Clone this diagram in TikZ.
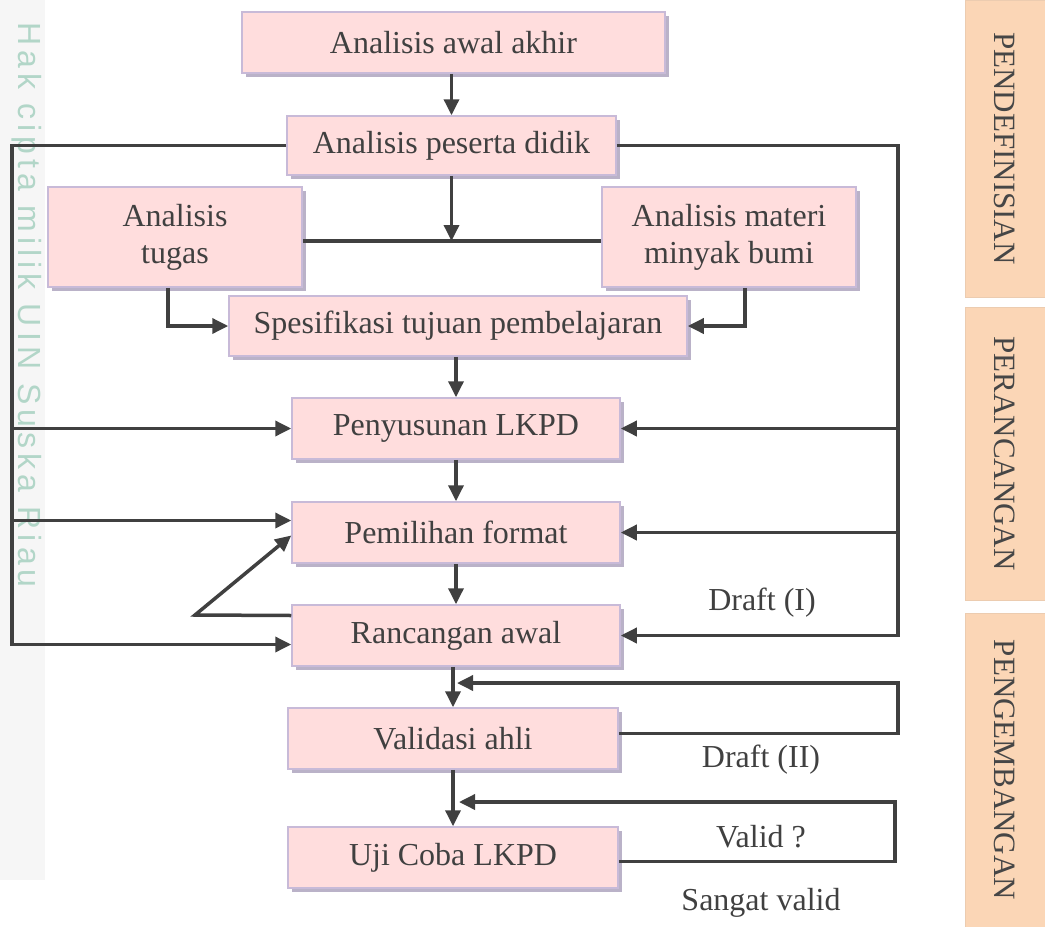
\documentclass[tikz,border=0pt]{standalone}
\usepackage{fontspec}
\setmainfont{Liberation Serif}
\newfontfamily\markfont[LetterSpace=16]{Liberation Sans}
\usetikzlibrary{arrows.meta,shadows}

\definecolor{boxfill}{RGB}{255,221,221}
\definecolor{boxline}{RGB}{200,186,216}
\definecolor{boxshade}{RGB}{186,178,200}
\definecolor{linegray}{RGB}{64,64,64}
\definecolor{bandfill}{RGB}{251,214,182}
\definecolor{bandline}{RGB}{236,204,176}
\definecolor{bandtext}{RGB}{70,70,70}
\definecolor{markgreen}{RGB}{178,214,200}
\definecolor{markstrip}{RGB}{246,246,246}

\tikzset{
  box/.style={draw=boxline, line width=1.5pt, fill=boxfill, align=center, inner sep=0pt,
    text=linegray, font=\fontsize{32}{37}\selectfont,
    drop shadow={shadow xshift=4pt, shadow yshift=-4pt, fill=boxshade, opacity=1}},
  band/.style={draw=bandline, line width=1pt, fill=bandfill, rotate=-90, inner sep=0pt,
    minimum height=80pt, text=bandtext, font=\fontsize{31}{36}\selectfont},
  lbl/.style={text=linegray, font=\fontsize{32}{37}\selectfont},
  line/.style={draw=linegray, line width=3.5pt},
  arrow/.style={line, -{Triangle[length=16pt,width=15pt]}}
}

\begin{document}
\begin{tikzpicture}[x=1pt,y=-1pt]
  \useasboundingbox (0,0) rectangle (1045,927);
  % watermark along the left edge
  \fill[markstrip] (0,0) rectangle (45,880);
  \node[rotate=-90, text=markgreen, font=\markfont\fontsize{32}{34}\selectfont] (hakcipta) at (27,305) {Hak cipta milik UIN Suska Riau};
  % phase bands
  \node[band, minimum width=297pt] (pendefinisian) at (1005,148.5) {PENDEFINISIAN};
  \node[band, minimum width=293pt] (perancangan) at (1005,453.5) {PERANCANGAN};
  \node[band, minimum width=314pt] (pengembangan) at (1005,770) {PENGEMBANGAN};
  % steps
  \node[box, minimum width=423pt, minimum height=61pt] (awal) at (453.5,42.5) {Analisis awal akhir};
  \node[box, minimum width=329pt, minimum height=59pt] (peserta) at (451.5,145.5) {Analisis peserta didik};
  \node[box, minimum width=254pt, minimum height=100pt] (tugas) at (175,237) {Analisis\\tugas};
  \node[box, minimum width=254pt, minimum height=100pt] (materi) at (729,237) {Analisis materi\\minyak bumi};
  \node[box, minimum width=458pt, minimum height=60pt] (spesifikasi) at (458,326) {Spesifikasi tujuan pembelajaran};
  \node[box, minimum width=328pt, minimum height=61pt] (penyusunan) at (456,428.5) {Penyusunan LKPD};
  \node[box, minimum width=328pt, minimum height=61pt] (pemilihan) at (456,532.5) {Pemilihan format};
  \node[box, minimum width=328pt, minimum height=61pt] (rancangan) at (456,635.5) {Rancangan awal};
  \node[box, minimum width=330pt, minimum height=61pt] (validasi) at (453,738.5) {Validasi ahli};
  \node[box, minimum width=330pt, minimum height=61pt] (ujicoba) at (453,857.5) {Uji Coba LKPD};
  % labels
  \node[lbl] (draftsatu) at (762,603) {Draft (I)};
  \node[lbl] (draftdua) at (761,760) {Draft (II)};
  \node[lbl] (valid) at (761,837) {Valid ?};
  \node[lbl] (sangatvalid) at (761,903) {Sangat valid};
  % rails and junctions
  \coordinate (leftx) at (12,0);
  \coordinate (rightx) at (898,0);
  \coordinate (junction) at (451.5,241);
  \coordinate (bend) at (195,615);
  \coordinate (loopdua) at (898,683);
  \coordinate (looptiga) at (895,802);
  % main flow
  \draw[arrow] (awal.south -| peserta.north) -- (peserta.north);
  \draw[arrow] (peserta.south) -- (junction);
  \draw[line] (tugas.east |- junction) -- (materi.west |- junction); % tugas -- materi
  \draw[arrow] ([xshift=-7pt]tugas.south) |- (spesifikasi.west);
  \draw[arrow] ([xshift=16pt]materi.south) |- (spesifikasi.east);
  \draw[arrow] (spesifikasi.south -| penyusunan.north) -- (penyusunan.north);
  \draw[arrow] (penyusunan.south) -- (pemilihan.north);
  \draw[arrow] (pemilihan.south) -- (rancangan.north);
  \draw[arrow] (rancangan.south -| validasi.north) -- (validasi.north);
  \draw[arrow] (validasi.south) -- (ujicoba.north);
  % left rail
  \draw[arrow] (peserta.west) -- (peserta.west -| leftx) |- ([yshift=-9pt]rancangan.west);
  \draw[arrow] (penyusunan.west -| leftx) -- (penyusunan.west);
  \draw[arrow] ([yshift=12pt]pemilihan.west -| leftx) -- ([yshift=12pt]pemilihan.west);
  \draw[arrow] ([yshift=20pt]rancangan.west) -- (bend) -- ([yshift=-3pt]pemilihan.west);
  % right rail
  \draw[arrow] (peserta.east) -- (peserta.east -| rightx) |- (rancangan.east);
  \draw[arrow] (penyusunan.east -| rightx) -- (penyusunan.east);
  \draw[arrow] (pemilihan.east -| rightx) -- (pemilihan.east);
  % revision loops
  \draw[arrow] ([yshift=5pt]validasi.east) -| (loopdua) -- ([xshift=4pt]loopdua -| validasi.north); % draft II
  \draw[arrow] ([yshift=-4pt]ujicoba.east) -| (looptiga) -- ([xshift=6pt]looptiga -| ujicoba.north); % valid?
\end{tikzpicture}
\end{document}
